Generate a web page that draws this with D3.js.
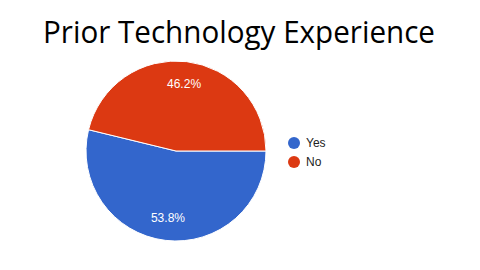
<!DOCTYPE html>
<html>
<head>
<meta charset="utf-8">
<script src="https://cdn.jsdelivr.net/npm/d3@7"></script>
<style>
  body { margin: 0; background: #fff; }
</style>
</head>
<body>
<div id="chart-area"></div>
<script>
const categories = ["Yes", "No"]
const values = [53.8, 46.2]
const colors = ["#3366cc", "#dc3912"]

const WIDTH = 480
const HEIGHT = 270
const CX = 176, CY = 151, R = 90

const svg = d3.select("#chart-area").append("svg")
  .attr("width", WIDTH)
  .attr("height", HEIGHT)

// Title
const title = svg.append("text")
  .attr("x", 239)
  .attr("y", 43)
  .attr("text-anchor", "middle")
  .attr("font-family", "'Open Sans', sans-serif")
  .attr("font-size", "31px")
  .attr("fill", "#000")
  .text("Prior Technology Experience")
title.attr("textLength", 392).attr("lengthAdjust", "spacingAndGlyphs")

const data = categories.map((c, i) => ({ name: c, value: values[i], color: colors[i] }))

// start at 3 o'clock, clockwise
const pie = d3.pie()
  .sort(null)
  .value(d => d.value)
  .startAngle(Math.PI / 2)
  .endAngle(Math.PI / 2 + 2 * Math.PI)

const arc = d3.arc().innerRadius(0).outerRadius(R)
const labelArc = d3.arc().innerRadius(R * 0.75).outerRadius(R * 0.75)

const g = svg.append("g")
  .attr("transform", `translate(${CX}, ${CY})`)

const arcs = pie(data)

g.selectAll("path")
  .data(arcs)
  .enter().append("path")
  .attr("d", arc)
  .attr("fill", d => d.data.color)
  .attr("stroke", "#fff")
  .attr("stroke-width", 1)

g.selectAll("text")
  .data(arcs)
  .enter().append("text")
  .attr("transform", d => `translate(${labelArc.centroid(d)})`)
  .attr("dy", "0.35em")
  .attr("text-anchor", "middle")
  .attr("font-family", "Arial, 'Liberation Sans', sans-serif")
  .attr("font-size", "12px")
  .attr("fill", "#fff")
  .text(d => d.data.value.toFixed(1) + "%")

// Legend
const legend = svg.append("g")
  .attr("transform", "translate(294, 143)")

const items = legend.selectAll("g")
  .data(data)
  .enter().append("g")
  .attr("transform", (d, i) => `translate(0, ${i * 19})`)

items.append("circle")
  .attr("r", 6)
  .attr("fill", d => d.color)

items.append("text")
  .attr("x", 12)
  .attr("dy", "0.35em")
  .attr("font-family", "Arial, 'Liberation Sans', sans-serif")
  .attr("font-size", "12px")
  .attr("fill", "#222")
  .text(d => d.name)
</script>
</body>
</html>
